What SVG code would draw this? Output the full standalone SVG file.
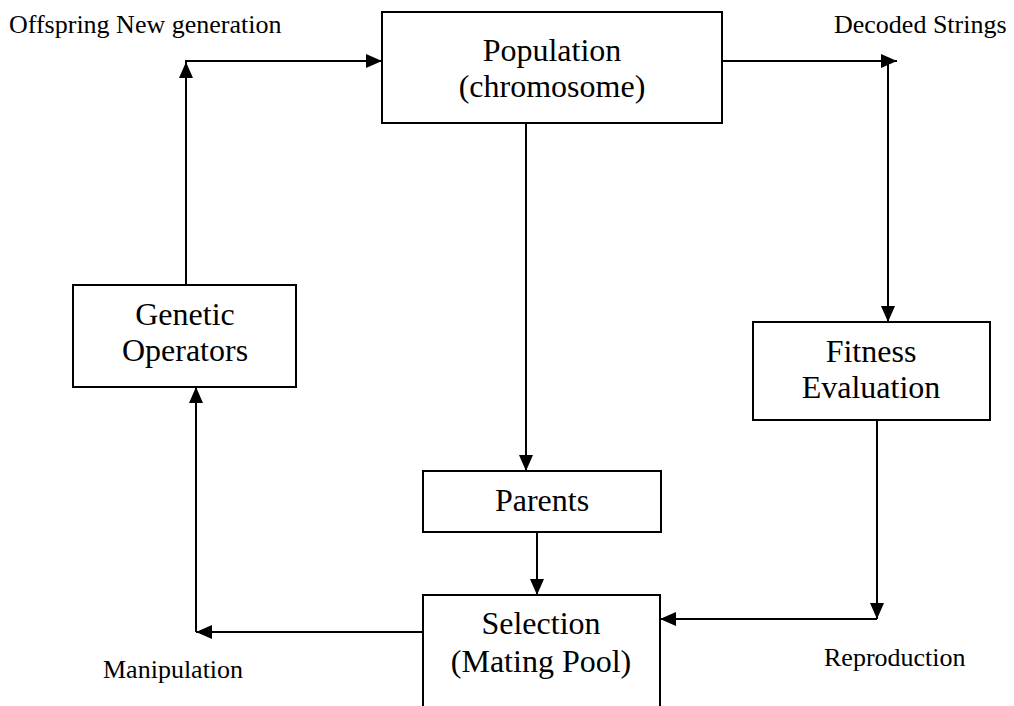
<svg xmlns="http://www.w3.org/2000/svg" width="1014" height="706" viewBox="0 0 1014 706">
<style>
.box{fill:#fff;stroke:#000;stroke-width:2}
.t{font-family:"Liberation Serif","Times New Roman",serif;font-size:32px;fill:#000;text-anchor:middle}
.l{font-family:"Liberation Serif","Times New Roman",serif;font-size:26px;fill:#000}
.c{fill:none;stroke:#000;stroke-width:2}
</style>
<defs>
<marker id="a" viewBox="0 0 16 14" refX="16" refY="7" markerWidth="16" markerHeight="14" markerUnits="userSpaceOnUse" orient="auto">
<path d="M0,0 L16,7 L0,14 Z" fill="#000"/>
</marker>
</defs>
<rect width="1014" height="706" fill="#fff"/>
<g id="connectors">
<path class="c" d="M186,285 V61 H382" marker-end="url(#a)"/>
<path class="c" d="M186,110 V62" marker-end="url(#a)"/>
<path class="c" d="M722,61 H897" marker-end="url(#a)"/>
<path class="c" d="M888,61 V322" marker-end="url(#a)"/>
<path class="c" d="M526,123 V471" marker-end="url(#a)"/>
<path class="c" d="M537,532 V595" marker-end="url(#a)"/>
<path class="c" d="M877,420 V619" marker-end="url(#a)"/>
<path class="c" d="M877,619 H660" marker-end="url(#a)"/>
<path class="c" d="M423,632 H196" marker-end="url(#a)"/>
<path class="c" d="M196,632 V387" marker-end="url(#a)"/>
</g>
<g id="population">
<rect class="box" x="382" y="12" width="340" height="111"/>
<text class="t" x="552" y="61">Population</text>
<text class="t" x="552" y="97">(chromosome)</text>
</g>
<g id="genetic">
<rect class="box" x="73" y="285" width="223" height="102"/>
<text class="t" x="185" y="325">Genetic</text>
<text class="t" x="185" y="361">Operators</text>
</g>
<g id="fitness">
<rect class="box" x="753" y="322" width="237" height="98"/>
<text class="t" x="871" y="362">Fitness</text>
<text class="t" x="871" y="398">Evaluation</text>
</g>
<g id="parents">
<rect class="box" x="423" y="471" width="238" height="61"/>
<text class="t" x="542" y="511">Parents</text>
</g>
<g id="selection">
<rect class="box" x="423" y="595" width="237" height="115"/>
<text class="t" x="541" y="634">Selection</text>
<text class="t" x="541" y="672">(Mating Pool)</text>
</g>
<g id="labels">
<text class="l" x="9" y="33">Offspring New generation</text>
<text class="l" x="834" y="33">Decoded Strings</text>
<text class="l" x="103" y="678">Manipulation</text>
<text class="l" x="824" y="666">Reproduction</text>
</g>
</svg>
